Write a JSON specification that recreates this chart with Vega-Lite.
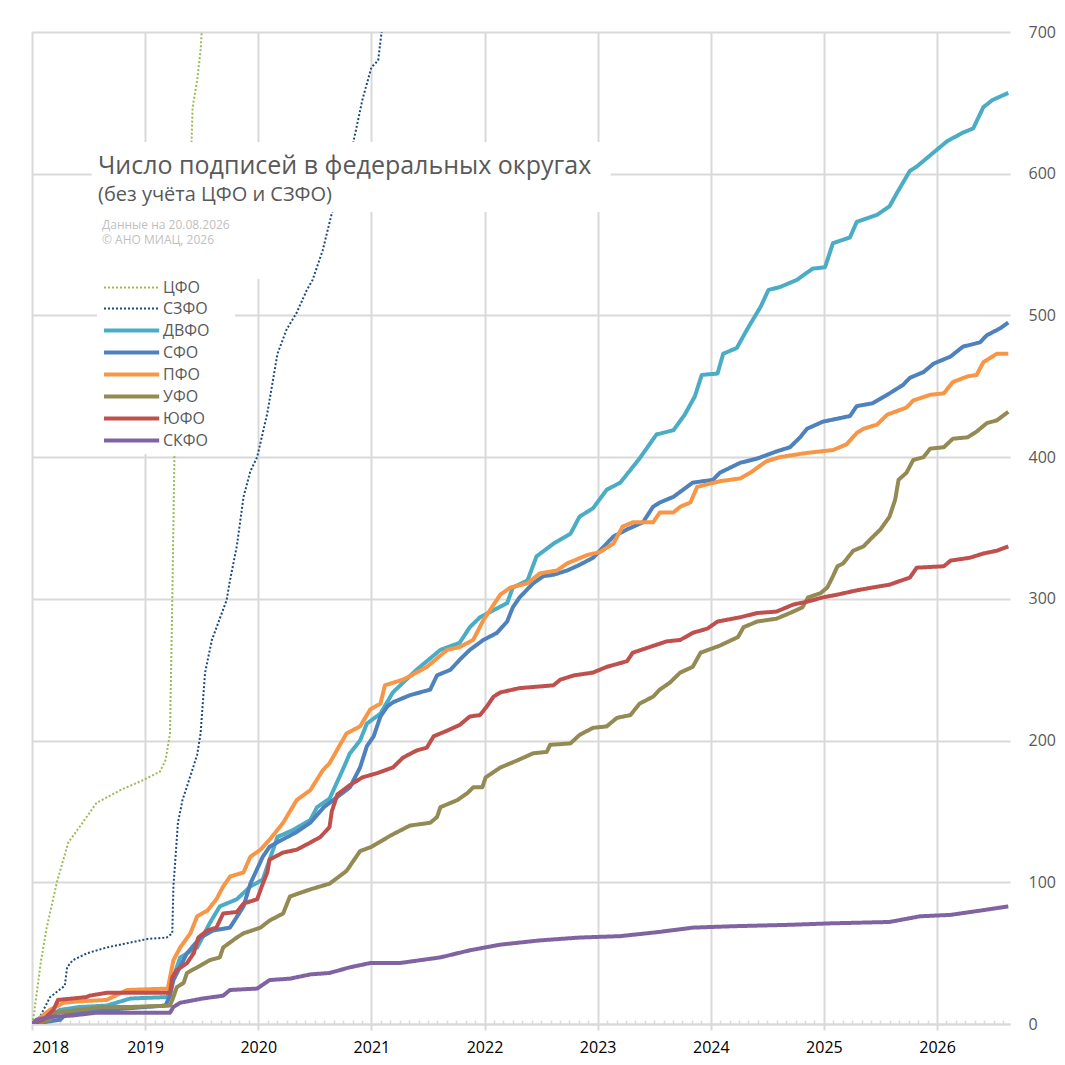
{
  "$schema": "https://vega.github.io/schema/vega-lite/v6.json",
  "description": "Число подписей в федеральных округах",
  "width": 978,
  "height": 992,
  "autosize": "none",
  "padding": {"left": 32, "top": 32, "right": 55, "bottom": 41},
  "background": "white",
  "title": {
    "text": "Число подписей в федеральных округах",
    "subtitle": "(без учёта ЦФО и СЗФО)",
    "anchor": "start",
    "frame": "group",
    "dx": 66,
    "dy": 185,
    "fontSize": 25,
    "subtitleFontSize": 20,
    "fontWeight": "normal",
    "color": "#595959",
    "subtitleColor": "#595959",
    "subtitlePadding": 6
  },
  "data": {
    "values": [
      {"okrug": "ЦФО", "year": 2018.00, "n": 0},
      {"okrug": "ЦФО", "year": 2018.02, "n": 8},
      {"okrug": "ЦФО", "year": 2018.03, "n": 15},
      {"okrug": "ЦФО", "year": 2018.08, "n": 45},
      {"okrug": "ЦФО", "year": 2018.13, "n": 68},
      {"okrug": "ЦФО", "year": 2018.22, "n": 100},
      {"okrug": "ЦФО", "year": 2018.32, "n": 128},
      {"okrug": "ЦФО", "year": 2018.42, "n": 139},
      {"okrug": "ЦФО", "year": 2018.57, "n": 156},
      {"okrug": "ЦФО", "year": 2018.78, "n": 165},
      {"okrug": "ЦФО", "year": 2018.98, "n": 172},
      {"okrug": "ЦФО", "year": 2019.13, "n": 178},
      {"okrug": "ЦФО", "year": 2019.18, "n": 186},
      {"okrug": "ЦФО", "year": 2019.22, "n": 205},
      {"okrug": "ЦФО", "year": 2019.24, "n": 299},
      {"okrug": "ЦФО", "year": 2019.26, "n": 405},
      {"okrug": "ЦФО", "year": 2019.41, "n": 622},
      {"okrug": "ЦФО", "year": 2019.42, "n": 647},
      {"okrug": "ЦФО", "year": 2019.46, "n": 666},
      {"okrug": "ЦФО", "year": 2019.49, "n": 687},
      {"okrug": "ЦФО", "year": 2019.50, "n": 700},
      {"okrug": "ЦФО", "year": 2019.55, "n": 760},

      {"okrug": "СЗФО", "year": 2018.00, "n": 0},
      {"okrug": "СЗФО", "year": 2018.07, "n": 5},
      {"okrug": "СЗФО", "year": 2018.16, "n": 19},
      {"okrug": "СЗФО", "year": 2018.29, "n": 27},
      {"okrug": "СЗФО", "year": 2018.31, "n": 40},
      {"okrug": "СЗФО", "year": 2018.36, "n": 45},
      {"okrug": "СЗФО", "year": 2018.49, "n": 50},
      {"okrug": "СЗФО", "year": 2018.66, "n": 54},
      {"okrug": "СЗФО", "year": 2018.84, "n": 57},
      {"okrug": "СЗФО", "year": 2019.02, "n": 60},
      {"okrug": "СЗФО", "year": 2019.19, "n": 61},
      {"okrug": "СЗФО", "year": 2019.24, "n": 64},
      {"okrug": "СЗФО", "year": 2019.25, "n": 97},
      {"okrug": "СЗФО", "year": 2019.29, "n": 142},
      {"okrug": "СЗФО", "year": 2019.33, "n": 158},
      {"okrug": "СЗФО", "year": 2019.40, "n": 175},
      {"okrug": "СЗФО", "year": 2019.46, "n": 190},
      {"okrug": "СЗФО", "year": 2019.49, "n": 205},
      {"okrug": "СЗФО", "year": 2019.53, "n": 248},
      {"okrug": "СЗФО", "year": 2019.59, "n": 271},
      {"okrug": "СЗФО", "year": 2019.72, "n": 299},
      {"okrug": "СЗФО", "year": 2019.75, "n": 313},
      {"okrug": "СЗФО", "year": 2019.81, "n": 337},
      {"okrug": "СЗФО", "year": 2019.87, "n": 372},
      {"okrug": "СЗФО", "year": 2019.93, "n": 390},
      {"okrug": "СЗФО", "year": 2019.99, "n": 400},
      {"okrug": "СЗФО", "year": 2020.08, "n": 431},
      {"okrug": "СЗФО", "year": 2020.17, "n": 473},
      {"okrug": "СЗФО", "year": 2020.25, "n": 490},
      {"okrug": "СЗФО", "year": 2020.34, "n": 502},
      {"okrug": "СЗФО", "year": 2020.43, "n": 518},
      {"okrug": "СЗФО", "year": 2020.48, "n": 525},
      {"okrug": "СЗФО", "year": 2020.57, "n": 546},
      {"okrug": "СЗФО", "year": 2020.65, "n": 572},
      {"okrug": "СЗФО", "year": 2020.84, "n": 622},
      {"okrug": "СЗФО", "year": 2020.92, "n": 652},
      {"okrug": "СЗФО", "year": 2021.00, "n": 675},
      {"okrug": "СЗФО", "year": 2021.06, "n": 680},
      {"okrug": "СЗФО", "year": 2021.09, "n": 700},
      {"okrug": "СЗФО", "year": 2021.13, "n": 730},

      {"okrug": "ДВФО", "year": 2018.00, "n": 0},
      {"okrug": "ДВФО", "year": 2018.25, "n": 10},
      {"okrug": "ДВФО", "year": 2018.42, "n": 12},
      {"okrug": "ДВФО", "year": 2018.66, "n": 13},
      {"okrug": "ДВФО", "year": 2018.87, "n": 18},
      {"okrug": "ДВФО", "year": 2019.20, "n": 19},
      {"okrug": "ДВФО", "year": 2019.22, "n": 26},
      {"okrug": "ДВФО", "year": 2019.31, "n": 47},
      {"okrug": "ДВФО", "year": 2019.46, "n": 54},
      {"okrug": "ДВФО", "year": 2019.57, "n": 71},
      {"okrug": "ДВФО", "year": 2019.66, "n": 83},
      {"okrug": "ДВФО", "year": 2019.81, "n": 88},
      {"okrug": "ДВФО", "year": 2019.93, "n": 97},
      {"okrug": "ДВФО", "year": 2020.04, "n": 102},
      {"okrug": "ДВФО", "year": 2020.10, "n": 116},
      {"okrug": "ДВФО", "year": 2020.17, "n": 132},
      {"okrug": "ДВФО", "year": 2020.31, "n": 137},
      {"okrug": "ДВФО", "year": 2020.46, "n": 144},
      {"okrug": "ДВФО", "year": 2020.52, "n": 153},
      {"okrug": "ДВФО", "year": 2020.63, "n": 159},
      {"okrug": "ДВФО", "year": 2020.75, "n": 180},
      {"okrug": "ДВФО", "year": 2020.81, "n": 191},
      {"okrug": "ДВФО", "year": 2020.90, "n": 200},
      {"okrug": "ДВФО", "year": 2020.96, "n": 212},
      {"okrug": "ДВФО", "year": 2021.08, "n": 219},
      {"okrug": "ДВФО", "year": 2021.19, "n": 234},
      {"okrug": "ДВФО", "year": 2021.40, "n": 250},
      {"okrug": "ДВФО", "year": 2021.61, "n": 264},
      {"okrug": "ДВФО", "year": 2021.78, "n": 269},
      {"okrug": "ДВФО", "year": 2021.87, "n": 280},
      {"okrug": "ДВФО", "year": 2021.96, "n": 287},
      {"okrug": "ДВФО", "year": 2022.08, "n": 292},
      {"okrug": "ДВФО", "year": 2022.20, "n": 297},
      {"okrug": "ДВФО", "year": 2022.25, "n": 308},
      {"okrug": "ДВФО", "year": 2022.38, "n": 313},
      {"okrug": "ДВФО", "year": 2022.46, "n": 330},
      {"okrug": "ДВФО", "year": 2022.61, "n": 339},
      {"okrug": "ДВФО", "year": 2022.76, "n": 346},
      {"okrug": "ДВФО", "year": 2022.84, "n": 358},
      {"okrug": "ДВФО", "year": 2022.96, "n": 364},
      {"okrug": "ДВФО", "year": 2023.08, "n": 377},
      {"okrug": "ДВФО", "year": 2023.20, "n": 382},
      {"okrug": "ДВФО", "year": 2023.37, "n": 399},
      {"okrug": "ДВФО", "year": 2023.52, "n": 416},
      {"okrug": "ДВФО", "year": 2023.67, "n": 419},
      {"okrug": "ДВФО", "year": 2023.77, "n": 430},
      {"okrug": "ДВФО", "year": 2023.86, "n": 443},
      {"okrug": "ДВФО", "year": 2023.92, "n": 458},
      {"okrug": "ДВФО", "year": 2024.06, "n": 459},
      {"okrug": "ДВФО", "year": 2024.11, "n": 473},
      {"okrug": "ДВФО", "year": 2024.23, "n": 477},
      {"okrug": "ДВФО", "year": 2024.32, "n": 490},
      {"okrug": "ДВФО", "year": 2024.44, "n": 506},
      {"okrug": "ДВФО", "year": 2024.51, "n": 518},
      {"okrug": "ДВФО", "year": 2024.61, "n": 520},
      {"okrug": "ДВФО", "year": 2024.76, "n": 525},
      {"okrug": "ДВФО", "year": 2024.90, "n": 533},
      {"okrug": "ДВФО", "year": 2025.01, "n": 534},
      {"okrug": "ДВФО", "year": 2025.08, "n": 551},
      {"okrug": "ДВФО", "year": 2025.23, "n": 555},
      {"okrug": "ДВФО", "year": 2025.29, "n": 566},
      {"okrug": "ДВФО", "year": 2025.47, "n": 571},
      {"okrug": "ДВФО", "year": 2025.58, "n": 577},
      {"okrug": "ДВФО", "year": 2025.65, "n": 587},
      {"okrug": "ДВФО", "year": 2025.76, "n": 602},
      {"okrug": "ДВФО", "year": 2025.82, "n": 605},
      {"okrug": "ДВФО", "year": 2026.00, "n": 617},
      {"okrug": "ДВФО", "year": 2026.09, "n": 623},
      {"okrug": "ДВФО", "year": 2026.23, "n": 629},
      {"okrug": "ДВФО", "year": 2026.32, "n": 632},
      {"okrug": "ДВФО", "year": 2026.41, "n": 647},
      {"okrug": "ДВФО", "year": 2026.49, "n": 652},
      {"okrug": "ДВФО", "year": 2026.63, "n": 657},

      {"okrug": "СФО", "year": 2018.00, "n": 0},
      {"okrug": "СФО", "year": 2018.25, "n": 3},
      {"okrug": "СФО", "year": 2018.31, "n": 8},
      {"okrug": "СФО", "year": 2019.18, "n": 13},
      {"okrug": "СФО", "year": 2019.22, "n": 20},
      {"okrug": "СФО", "year": 2019.25, "n": 31},
      {"okrug": "СФО", "year": 2019.37, "n": 50},
      {"okrug": "СФО", "year": 2019.49, "n": 61},
      {"okrug": "СФО", "year": 2019.60, "n": 66},
      {"okrug": "СФО", "year": 2019.75, "n": 68},
      {"okrug": "СФО", "year": 2019.87, "n": 83},
      {"okrug": "СФО", "year": 2019.93, "n": 99},
      {"okrug": "СФО", "year": 2020.04, "n": 118},
      {"okrug": "СФО", "year": 2020.10, "n": 125},
      {"okrug": "СФО", "year": 2020.21, "n": 130},
      {"okrug": "СФО", "year": 2020.33, "n": 135},
      {"okrug": "СФО", "year": 2020.46, "n": 142},
      {"okrug": "СФО", "year": 2020.58, "n": 153},
      {"okrug": "СФО", "year": 2020.63, "n": 156},
      {"okrug": "СФО", "year": 2020.81, "n": 167},
      {"okrug": "СФО", "year": 2020.90, "n": 181},
      {"okrug": "СФО", "year": 2020.96, "n": 196},
      {"okrug": "СФО", "year": 2021.02, "n": 203},
      {"okrug": "СФО", "year": 2021.08, "n": 217},
      {"okrug": "СФО", "year": 2021.14, "n": 224},
      {"okrug": "СФО", "year": 2021.19, "n": 227},
      {"okrug": "СФО", "year": 2021.34, "n": 232},
      {"okrug": "СФО", "year": 2021.52, "n": 236},
      {"okrug": "СФО", "year": 2021.58, "n": 246},
      {"okrug": "СФО", "year": 2021.70, "n": 250},
      {"okrug": "СФО", "year": 2021.78, "n": 257},
      {"okrug": "СФО", "year": 2021.87, "n": 264},
      {"okrug": "СФО", "year": 2021.99, "n": 271},
      {"okrug": "СФО", "year": 2022.11, "n": 276},
      {"okrug": "СФО", "year": 2022.20, "n": 284},
      {"okrug": "СФО", "year": 2022.25, "n": 294},
      {"okrug": "СФО", "year": 2022.31, "n": 301},
      {"okrug": "СФО", "year": 2022.43, "n": 311},
      {"okrug": "СФО", "year": 2022.52, "n": 316},
      {"okrug": "СФО", "year": 2022.61, "n": 317},
      {"okrug": "СФО", "year": 2022.73, "n": 320},
      {"okrug": "СФО", "year": 2022.84, "n": 324},
      {"okrug": "СФО", "year": 2022.96, "n": 329},
      {"okrug": "СФО", "year": 2023.02, "n": 334},
      {"okrug": "СФО", "year": 2023.14, "n": 344},
      {"okrug": "СФО", "year": 2023.26, "n": 349},
      {"okrug": "СФО", "year": 2023.40, "n": 354},
      {"okrug": "СФО", "year": 2023.49, "n": 365},
      {"okrug": "СФО", "year": 2023.55, "n": 368},
      {"okrug": "СФО", "year": 2023.67, "n": 372},
      {"okrug": "СФО", "year": 2023.84, "n": 382},
      {"okrug": "СФО", "year": 2024.02, "n": 384},
      {"okrug": "СФО", "year": 2024.08, "n": 389},
      {"okrug": "СФО", "year": 2024.26, "n": 396},
      {"okrug": "СФО", "year": 2024.41, "n": 399},
      {"okrug": "СФО", "year": 2024.58, "n": 404},
      {"okrug": "СФО", "year": 2024.70, "n": 407},
      {"okrug": "СФО", "year": 2024.79, "n": 414},
      {"okrug": "СФО", "year": 2024.85, "n": 420},
      {"okrug": "СФО", "year": 2024.99, "n": 425},
      {"okrug": "СФО", "year": 2025.23, "n": 429},
      {"okrug": "СФО", "year": 2025.29, "n": 436},
      {"okrug": "СФО", "year": 2025.43, "n": 438},
      {"okrug": "СФО", "year": 2025.58, "n": 445},
      {"okrug": "СФО", "year": 2025.70, "n": 451},
      {"okrug": "СФО", "year": 2025.76, "n": 456},
      {"okrug": "СФО", "year": 2025.88, "n": 460},
      {"okrug": "СФО", "year": 2025.97, "n": 466},
      {"okrug": "СФО", "year": 2026.12, "n": 471},
      {"okrug": "СФО", "year": 2026.23, "n": 478},
      {"okrug": "СФО", "year": 2026.38, "n": 481},
      {"okrug": "СФО", "year": 2026.44, "n": 486},
      {"okrug": "СФО", "year": 2026.56, "n": 491},
      {"okrug": "СФО", "year": 2026.63, "n": 495},

      {"okrug": "ПФО", "year": 2018.00, "n": 0},
      {"okrug": "ПФО", "year": 2018.16, "n": 10},
      {"okrug": "ПФО", "year": 2018.28, "n": 15},
      {"okrug": "ПФО", "year": 2018.42, "n": 16},
      {"okrug": "ПФО", "year": 2018.66, "n": 17},
      {"okrug": "ПФО", "year": 2018.84, "n": 24},
      {"okrug": "ПФО", "year": 2019.20, "n": 25},
      {"okrug": "ПФО", "year": 2019.25, "n": 45},
      {"okrug": "ПФО", "year": 2019.31, "n": 54},
      {"okrug": "ПФО", "year": 2019.40, "n": 64},
      {"okrug": "ПФО", "year": 2019.46, "n": 76},
      {"okrug": "ПФО", "year": 2019.55, "n": 80},
      {"okrug": "ПФО", "year": 2019.63, "n": 88},
      {"okrug": "ПФО", "year": 2019.69, "n": 97},
      {"okrug": "ПФО", "year": 2019.75, "n": 104},
      {"okrug": "ПФО", "year": 2019.87, "n": 107},
      {"okrug": "ПФО", "year": 2019.93, "n": 118},
      {"okrug": "ПФО", "year": 2020.02, "n": 123},
      {"okrug": "ПФО", "year": 2020.10, "n": 130},
      {"okrug": "ПФО", "year": 2020.22, "n": 142},
      {"okrug": "ПФО", "year": 2020.34, "n": 158},
      {"okrug": "ПФО", "year": 2020.46, "n": 165},
      {"okrug": "ПФО", "year": 2020.57, "n": 179},
      {"okrug": "ПФО", "year": 2020.63, "n": 184},
      {"okrug": "ПФО", "year": 2020.78, "n": 205},
      {"okrug": "ПФО", "year": 2020.90, "n": 210},
      {"okrug": "ПФО", "year": 2020.99, "n": 222},
      {"okrug": "ПФО", "year": 2021.08, "n": 226},
      {"okrug": "ПФО", "year": 2021.12, "n": 239},
      {"okrug": "ПФО", "year": 2021.28, "n": 243},
      {"okrug": "ПФО", "year": 2021.40, "n": 248},
      {"okrug": "ПФО", "year": 2021.49, "n": 252},
      {"okrug": "ПФО", "year": 2021.67, "n": 264},
      {"okrug": "ПФО", "year": 2021.78, "n": 266},
      {"okrug": "ПФО", "year": 2021.90, "n": 271},
      {"okrug": "ПФО", "year": 2021.99, "n": 285},
      {"okrug": "ПФО", "year": 2022.14, "n": 303},
      {"okrug": "ПФО", "year": 2022.23, "n": 308},
      {"okrug": "ПФО", "year": 2022.38, "n": 311},
      {"okrug": "ПФО", "year": 2022.49, "n": 318},
      {"okrug": "ПФО", "year": 2022.64, "n": 320},
      {"okrug": "ПФО", "year": 2022.73, "n": 325},
      {"okrug": "ПФО", "year": 2022.91, "n": 331},
      {"okrug": "ПФО", "year": 2023.02, "n": 333},
      {"okrug": "ПФО", "year": 2023.14, "n": 339},
      {"okrug": "ПФО", "year": 2023.22, "n": 351},
      {"okrug": "ПФО", "year": 2023.31, "n": 354},
      {"okrug": "ПФО", "year": 2023.49, "n": 354},
      {"okrug": "ПФО", "year": 2023.55, "n": 361},
      {"okrug": "ПФО", "year": 2023.67, "n": 361},
      {"okrug": "ПФО", "year": 2023.73, "n": 365},
      {"okrug": "ПФО", "year": 2023.82, "n": 368},
      {"okrug": "ПФО", "year": 2023.88, "n": 379},
      {"okrug": "ПФО", "year": 2024.08, "n": 383},
      {"okrug": "ПФО", "year": 2024.26, "n": 385},
      {"okrug": "ПФО", "year": 2024.35, "n": 389},
      {"okrug": "ПФО", "year": 2024.49, "n": 397},
      {"okrug": "ПФО", "year": 2024.61, "n": 400},
      {"okrug": "ПФО", "year": 2024.85, "n": 403},
      {"okrug": "ПФО", "year": 2025.08, "n": 405},
      {"okrug": "ПФО", "year": 2025.20, "n": 409},
      {"okrug": "ПФО", "year": 2025.29, "n": 417},
      {"okrug": "ПФО", "year": 2025.35, "n": 420},
      {"okrug": "ПФО", "year": 2025.47, "n": 423},
      {"okrug": "ПФО", "year": 2025.56, "n": 430},
      {"okrug": "ПФО", "year": 2025.73, "n": 435},
      {"okrug": "ПФО", "year": 2025.79, "n": 440},
      {"okrug": "ПФО", "year": 2025.94, "n": 444},
      {"okrug": "ПФО", "year": 2026.06, "n": 445},
      {"okrug": "ПФО", "year": 2026.14, "n": 453},
      {"okrug": "ПФО", "year": 2026.27, "n": 457},
      {"okrug": "ПФО", "year": 2026.35, "n": 458},
      {"okrug": "ПФО", "year": 2026.41, "n": 467},
      {"okrug": "ПФО", "year": 2026.53, "n": 473},
      {"okrug": "ПФО", "year": 2026.63, "n": 473},

      {"okrug": "УФО", "year": 2018.00, "n": 0},
      {"okrug": "УФО", "year": 2018.16, "n": 3},
      {"okrug": "УФО", "year": 2018.22, "n": 8},
      {"okrug": "УФО", "year": 2018.42, "n": 10},
      {"okrug": "УФО", "year": 2018.63, "n": 12},
      {"okrug": "УФО", "year": 2018.87, "n": 12},
      {"okrug": "УФО", "year": 2019.22, "n": 13},
      {"okrug": "УФО", "year": 2019.25, "n": 19},
      {"okrug": "УФО", "year": 2019.28, "n": 26},
      {"okrug": "УФО", "year": 2019.34, "n": 29},
      {"okrug": "УФО", "year": 2019.37, "n": 36},
      {"okrug": "УФО", "year": 2019.46, "n": 40},
      {"okrug": "УФО", "year": 2019.57, "n": 45},
      {"okrug": "УФО", "year": 2019.66, "n": 47},
      {"okrug": "УФО", "year": 2019.69, "n": 54},
      {"okrug": "УФО", "year": 2019.81, "n": 61},
      {"okrug": "УФО", "year": 2019.87, "n": 64},
      {"okrug": "УФО", "year": 2020.02, "n": 68},
      {"okrug": "УФО", "year": 2020.10, "n": 73},
      {"okrug": "УФО", "year": 2020.22, "n": 78},
      {"okrug": "УФО", "year": 2020.28, "n": 90},
      {"okrug": "УФО", "year": 2020.46, "n": 95},
      {"okrug": "УФО", "year": 2020.63, "n": 99},
      {"okrug": "УФО", "year": 2020.78, "n": 108},
      {"okrug": "УФО", "year": 2020.90, "n": 122},
      {"okrug": "УФО", "year": 2021.00, "n": 125},
      {"okrug": "УФО", "year": 2021.17, "n": 133},
      {"okrug": "УФО", "year": 2021.34, "n": 140},
      {"okrug": "УФО", "year": 2021.52, "n": 142},
      {"okrug": "УФО", "year": 2021.58, "n": 146},
      {"okrug": "УФО", "year": 2021.61, "n": 153},
      {"okrug": "УФО", "year": 2021.76, "n": 158},
      {"okrug": "УФО", "year": 2021.85, "n": 163},
      {"okrug": "УФО", "year": 2021.90, "n": 167},
      {"okrug": "УФО", "year": 2021.98, "n": 167},
      {"okrug": "УФО", "year": 2022.01, "n": 174},
      {"okrug": "УФО", "year": 2022.14, "n": 181},
      {"okrug": "УФО", "year": 2022.29, "n": 186},
      {"okrug": "УФО", "year": 2022.43, "n": 191},
      {"okrug": "УФО", "year": 2022.55, "n": 192},
      {"okrug": "УФО", "year": 2022.58, "n": 197},
      {"okrug": "УФО", "year": 2022.76, "n": 198},
      {"okrug": "УФО", "year": 2022.84, "n": 204},
      {"okrug": "УФО", "year": 2022.96, "n": 209},
      {"okrug": "УФО", "year": 2023.08, "n": 210},
      {"okrug": "УФО", "year": 2023.17, "n": 216},
      {"okrug": "УФО", "year": 2023.29, "n": 218},
      {"okrug": "УФО", "year": 2023.37, "n": 226},
      {"okrug": "УФО", "year": 2023.49, "n": 231},
      {"okrug": "УФО", "year": 2023.55, "n": 236},
      {"okrug": "УФО", "year": 2023.64, "n": 241},
      {"okrug": "УФО", "year": 2023.73, "n": 248},
      {"okrug": "УФО", "year": 2023.84, "n": 252},
      {"okrug": "УФО", "year": 2023.91, "n": 262},
      {"okrug": "УФО", "year": 2024.08, "n": 267},
      {"okrug": "УФО", "year": 2024.24, "n": 273},
      {"okrug": "УФО", "year": 2024.29, "n": 280},
      {"okrug": "УФО", "year": 2024.41, "n": 284},
      {"okrug": "УФО", "year": 2024.58, "n": 286},
      {"okrug": "УФО", "year": 2024.70, "n": 290},
      {"okrug": "УФО", "year": 2024.81, "n": 294},
      {"okrug": "УФО", "year": 2024.86, "n": 301},
      {"okrug": "УФО", "year": 2024.97, "n": 304},
      {"okrug": "УФО", "year": 2025.03, "n": 308},
      {"okrug": "УФО", "year": 2025.08, "n": 316},
      {"okrug": "УФО", "year": 2025.12, "n": 323},
      {"okrug": "УФО", "year": 2025.17, "n": 325},
      {"okrug": "УФО", "year": 2025.26, "n": 334},
      {"okrug": "УФО", "year": 2025.35, "n": 337},
      {"okrug": "УФО", "year": 2025.41, "n": 342},
      {"okrug": "УФО", "year": 2025.50, "n": 349},
      {"okrug": "УФО", "year": 2025.58, "n": 358},
      {"okrug": "УФО", "year": 2025.63, "n": 370},
      {"okrug": "УФО", "year": 2025.66, "n": 384},
      {"okrug": "УФО", "year": 2025.73, "n": 389},
      {"okrug": "УФО", "year": 2025.79, "n": 398},
      {"okrug": "УФО", "year": 2025.88, "n": 400},
      {"okrug": "УФО", "year": 2025.94, "n": 406},
      {"okrug": "УФО", "year": 2026.06, "n": 407},
      {"okrug": "УФО", "year": 2026.14, "n": 413},
      {"okrug": "УФО", "year": 2026.27, "n": 414},
      {"okrug": "УФО", "year": 2026.35, "n": 418},
      {"okrug": "УФО", "year": 2026.44, "n": 424},
      {"okrug": "УФО", "year": 2026.53, "n": 426},
      {"okrug": "УФО", "year": 2026.63, "n": 432},

      {"okrug": "ЮФО", "year": 2018.00, "n": 0},
      {"okrug": "ЮФО", "year": 2018.10, "n": 3},
      {"okrug": "ЮФО", "year": 2018.19, "n": 10},
      {"okrug": "ЮФО", "year": 2018.23, "n": 17},
      {"okrug": "ЮФО", "year": 2018.36, "n": 18},
      {"okrug": "ЮФО", "year": 2018.48, "n": 19},
      {"okrug": "ЮФО", "year": 2018.51, "n": 20},
      {"okrug": "ЮФО", "year": 2018.66, "n": 22},
      {"okrug": "ЮФО", "year": 2019.22, "n": 22},
      {"okrug": "ЮФО", "year": 2019.24, "n": 33},
      {"okrug": "ЮФО", "year": 2019.28, "n": 38},
      {"okrug": "ЮФО", "year": 2019.37, "n": 43},
      {"okrug": "ЮФО", "year": 2019.43, "n": 50},
      {"okrug": "ЮФО", "year": 2019.47, "n": 61},
      {"okrug": "ЮФО", "year": 2019.55, "n": 66},
      {"okrug": "ЮФО", "year": 2019.63, "n": 68},
      {"okrug": "ЮФО", "year": 2019.69, "n": 78},
      {"okrug": "ЮФО", "year": 2019.81, "n": 79},
      {"okrug": "ЮФО", "year": 2019.87, "n": 85},
      {"okrug": "ЮФО", "year": 2019.99, "n": 88},
      {"okrug": "ЮФО", "year": 2020.04, "n": 99},
      {"okrug": "ЮФО", "year": 2020.08, "n": 107},
      {"okrug": "ЮФО", "year": 2020.10, "n": 116},
      {"okrug": "ЮФО", "year": 2020.22, "n": 121},
      {"okrug": "ЮФО", "year": 2020.34, "n": 123},
      {"okrug": "ЮФО", "year": 2020.46, "n": 128},
      {"okrug": "ЮФО", "year": 2020.55, "n": 132},
      {"okrug": "ЮФО", "year": 2020.63, "n": 139},
      {"okrug": "ЮФО", "year": 2020.65, "n": 150},
      {"okrug": "ЮФО", "year": 2020.70, "n": 162},
      {"okrug": "ЮФО", "year": 2020.80, "n": 168},
      {"okrug": "ЮФО", "year": 2020.92, "n": 174},
      {"okrug": "ЮФО", "year": 2021.05, "n": 177},
      {"okrug": "ЮФО", "year": 2021.19, "n": 181},
      {"okrug": "ЮФО", "year": 2021.28, "n": 188},
      {"okrug": "ЮФО", "year": 2021.40, "n": 193},
      {"okrug": "ЮФО", "year": 2021.49, "n": 195},
      {"okrug": "ЮФО", "year": 2021.55, "n": 203},
      {"okrug": "ЮФО", "year": 2021.67, "n": 207},
      {"okrug": "ЮФО", "year": 2021.78, "n": 211},
      {"okrug": "ЮФО", "year": 2021.87, "n": 217},
      {"okrug": "ЮФО", "year": 2021.96, "n": 218},
      {"okrug": "ЮФО", "year": 2022.02, "n": 224},
      {"okrug": "ЮФО", "year": 2022.08, "n": 231},
      {"okrug": "ЮФО", "year": 2022.14, "n": 234},
      {"okrug": "ЮФО", "year": 2022.31, "n": 237},
      {"okrug": "ЮФО", "year": 2022.46, "n": 238},
      {"okrug": "ЮФО", "year": 2022.61, "n": 239},
      {"okrug": "ЮФО", "year": 2022.67, "n": 243},
      {"okrug": "ЮФО", "year": 2022.79, "n": 246},
      {"okrug": "ЮФО", "year": 2022.96, "n": 248},
      {"okrug": "ЮФО", "year": 2023.08, "n": 252},
      {"okrug": "ЮФО", "year": 2023.26, "n": 256},
      {"okrug": "ЮФО", "year": 2023.31, "n": 262},
      {"okrug": "ЮФО", "year": 2023.46, "n": 266},
      {"okrug": "ЮФО", "year": 2023.61, "n": 270},
      {"okrug": "ЮФО", "year": 2023.73, "n": 271},
      {"okrug": "ЮФО", "year": 2023.84, "n": 276},
      {"okrug": "ЮФО", "year": 2023.97, "n": 279},
      {"okrug": "ЮФО", "year": 2024.06, "n": 284},
      {"okrug": "ЮФО", "year": 2024.26, "n": 287},
      {"okrug": "ЮФО", "year": 2024.41, "n": 290},
      {"okrug": "ЮФО", "year": 2024.58, "n": 291},
      {"okrug": "ЮФО", "year": 2024.73, "n": 296},
      {"okrug": "ЮФО", "year": 2024.85, "n": 298},
      {"okrug": "ЮФО", "year": 2024.99, "n": 301},
      {"okrug": "ЮФО", "year": 2025.12, "n": 303},
      {"okrug": "ЮФО", "year": 2025.29, "n": 306},
      {"okrug": "ЮФО", "year": 2025.43, "n": 308},
      {"okrug": "ЮФО", "year": 2025.58, "n": 310},
      {"okrug": "ЮФО", "year": 2025.65, "n": 312},
      {"okrug": "ЮФО", "year": 2025.76, "n": 315},
      {"okrug": "ЮФО", "year": 2025.82, "n": 322},
      {"okrug": "ЮФО", "year": 2026.06, "n": 323},
      {"okrug": "ЮФО", "year": 2026.12, "n": 327},
      {"okrug": "ЮФО", "year": 2026.29, "n": 329},
      {"okrug": "ЮФО", "year": 2026.41, "n": 332},
      {"okrug": "ЮФО", "year": 2026.53, "n": 334},
      {"okrug": "ЮФО", "year": 2026.63, "n": 337},

      {"okrug": "СКФО", "year": 2018.00, "n": 0},
      {"okrug": "СКФО", "year": 2018.04, "n": 3},
      {"okrug": "СКФО", "year": 2018.16, "n": 5},
      {"okrug": "СКФО", "year": 2018.36, "n": 6},
      {"okrug": "СКФО", "year": 2018.57, "n": 8},
      {"okrug": "СКФО", "year": 2019.22, "n": 8},
      {"okrug": "СКФО", "year": 2019.25, "n": 12},
      {"okrug": "СКФО", "year": 2019.31, "n": 15},
      {"okrug": "СКФО", "year": 2019.51, "n": 18},
      {"okrug": "СКФО", "year": 2019.69, "n": 20},
      {"okrug": "СКФО", "year": 2019.75, "n": 24},
      {"okrug": "СКФО", "year": 2019.99, "n": 25},
      {"okrug": "СКФО", "year": 2020.10, "n": 31},
      {"okrug": "СКФО", "year": 2020.28, "n": 32},
      {"okrug": "СКФО", "year": 2020.46, "n": 35},
      {"okrug": "СКФО", "year": 2020.63, "n": 36},
      {"okrug": "СКФО", "year": 2020.81, "n": 40},
      {"okrug": "СКФО", "year": 2020.99, "n": 43},
      {"okrug": "СКФО", "year": 2021.25, "n": 43},
      {"okrug": "СКФО", "year": 2021.43, "n": 45},
      {"okrug": "СКФО", "year": 2021.61, "n": 47},
      {"okrug": "СКФО", "year": 2021.87, "n": 52},
      {"okrug": "СКФО", "year": 2022.14, "n": 56},
      {"okrug": "СКФО", "year": 2022.49, "n": 59},
      {"okrug": "СКФО", "year": 2022.84, "n": 61},
      {"okrug": "СКФО", "year": 2023.20, "n": 62},
      {"okrug": "СКФО", "year": 2023.55, "n": 65},
      {"okrug": "СКФО", "year": 2023.84, "n": 68},
      {"okrug": "СКФО", "year": 2024.20, "n": 69},
      {"okrug": "СКФО", "year": 2024.70, "n": 70},
      {"okrug": "СКФО", "year": 2025.05, "n": 71},
      {"okrug": "СКФО", "year": 2025.58, "n": 72},
      {"okrug": "СКФО", "year": 2025.85, "n": 76},
      {"okrug": "СКФО", "year": 2026.12, "n": 77},
      {"okrug": "СКФО", "year": 2026.38, "n": 80},
      {"okrug": "СКФО", "year": 2026.63, "n": 83}
    ]
  },
  "layer": [
    {
      "mark": {"type": "line", "clip": true, "strokeJoin": "round"},
      "encoding": {
        "x": {
          "field": "year",
          "type": "quantitative",
          "scale": {"domain": [2018, 2026.645], "nice": false, "zero": false},
          "axis": {
            "orient": "bottom",
            "title": null,
            "values": [2018, 2019, 2020, 2021, 2022, 2023, 2024, 2025, 2026],
            "format": "d",
            "grid": true,
            "gridColor": "#D9D9D9",
            "gridWidth": 2,
            "domainColor": "#D9D9D9",
            "domainWidth": 2,
            "tickColor": "#D9D9D9",
            "tickWidth": 2,
            "tickSize": 6,
            "labelColor": "#000000",
            "labelFontSize": 16,
            "labelPadding": 9
          }
        },
        "y": {
          "field": "n",
          "type": "quantitative",
          "title": null,
          "scale": {"domain": [0, 700], "nice": false},
          "axis": {
            "orient": "right",
            "title": null,
            "values": [0, 100, 200, 300, 400, 500, 600, 700],
            "grid": true,
            "gridColor": "#D9D9D9",
            "gridWidth": 2,
            "domain": false,
            "ticks": false,
            "labelColor": "#595959",
            "labelFontSize": 16,
            "labelAlign": "left",
            "labelPadding": 18
          }
        },
        "color": {
          "field": "okrug",
          "type": "nominal",
          "title": ["Данные на 20.08.2026", "© АНО МИАЦ, 2026"],
          "scale": {
            "domain": ["ЦФО", "СЗФО", "ДВФО", "СФО", "ПФО", "УФО", "ЮФО", "СКФО"],
            "range": ["#9BBB59", "#1F497D", "#4BACC6", "#4F81BD", "#F79646", "#948A54", "#C0504D", "#8064A2"]
          },
          "legend": {
            "orient": "none",
            "legendX": 65,
            "legendY": 183,
            "fillColor": "white",
            "padding": 5,
            "titleFontSize": 12,
            "titleFontWeight": "normal",
            "titleColor": "#BFBFBF",
            "titleLineHeight": 15,
            "titlePadding": 28,
            "symbolType": "M-1,0H3.8",
            "symbolSize": 529,
            "labelFontSize": 16,
            "labelColor": "#595959",
            "labelOffset": 34,
            "rowPadding": 0
          }
        },
        "strokeDash": {
          "field": "okrug",
          "type": "nominal",
          "title": ["Данные на 20.08.2026", "© АНО МИАЦ, 2026"],
          "scale": {
            "domain": ["ЦФО", "СЗФО", "ДВФО", "СФО", "ПФО", "УФО", "ЮФО", "СКФО"],
            "range": [[2, 2], [2, 2], [1, 0], [1, 0], [1, 0], [1, 0], [1, 0], [1, 0]]
          }
        },
        "strokeWidth": {
          "field": "okrug",
          "type": "nominal",
          "title": ["Данные на 20.08.2026", "© АНО МИАЦ, 2026"],
          "scale": {
            "type": "ordinal",
            "domain": ["ЦФО", "СЗФО", "ДВФО", "СФО", "ПФО", "УФО", "ЮФО", "СКФО"],
            "range": [2, 2, 4, 4, 4, 4, 4, 4]
          }
        }
      }
    },
    {
      "mark": {"type": "rect", "fill": "white"},
      "encoding": {
        "x": {
          "datum": 2018.53,
          "type": "quantitative",
          "axis": {
            "orient": "bottom",
            "title": null,
            "labels": false,
            "grid": false,
            "domain": false,
            "tickColor": "#D9D9D9",
            "tickWidth": 1.5,
            "tickSize": -4,
            "values": [
              2018.0833, 2018.1667, 2018.25, 2018.3333, 2018.4167, 2018.5, 2018.5833, 2018.6667, 2018.75, 2018.8333, 2018.9167,
              2019.0833, 2019.1667, 2019.25, 2019.3333, 2019.4167, 2019.5, 2019.5833, 2019.6667, 2019.75, 2019.8333, 2019.9167,
              2020.0833, 2020.1667, 2020.25, 2020.3333, 2020.4167, 2020.5, 2020.5833, 2020.6667, 2020.75, 2020.8333, 2020.9167,
              2021.0833, 2021.1667, 2021.25, 2021.3333, 2021.4167, 2021.5, 2021.5833, 2021.6667, 2021.75, 2021.8333, 2021.9167,
              2022.0833, 2022.1667, 2022.25, 2022.3333, 2022.4167, 2022.5, 2022.5833, 2022.6667, 2022.75, 2022.8333, 2022.9167,
              2023.0833, 2023.1667, 2023.25, 2023.3333, 2023.4167, 2023.5, 2023.5833, 2023.6667, 2023.75, 2023.8333, 2023.9167,
              2024.0833, 2024.1667, 2024.25, 2024.3333, 2024.4167, 2024.5, 2024.5833, 2024.6667, 2024.75, 2024.8333, 2024.9167,
              2025.0833, 2025.1667, 2025.25, 2025.3333, 2025.4167, 2025.5, 2025.5833, 2025.6667, 2025.75, 2025.8333, 2025.9167,
              2026.0833, 2026.1667, 2026.25, 2026.3333, 2026.4167, 2026.5, 2026.5833
            ]
          }
        },
        "x2": {"datum": 2023.11},
        "y": {"datum": 622, "type": "quantitative"},
        "y2": {"datum": 573}
      }
    },
    {
      "mark": {"type": "rect", "fill": "white"},
      "encoding": {
        "x": {"datum": 2018.53, "type": "quantitative", "axis": null},
        "x2": {"datum": 2020.37},
        "y": {"datum": 573, "type": "quantitative"},
        "y2": {"datum": 526}
      }
    }
  ],
  "resolve": {"axis": {"x": "independent"}},
  "config": {
    "font": "Open Sans",
    "view": {"stroke": null}
  }
}
